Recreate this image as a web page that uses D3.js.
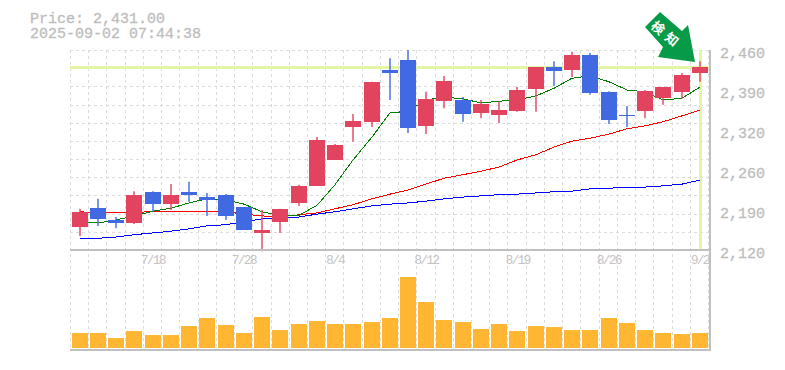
<!DOCTYPE html>
<html>
<head>
<meta charset="utf-8">
<script src="https://cdn.jsdelivr.net/npm/d3@7"></script>
<style>
  html, body { margin: 0; padding: 0; background: #fff; }
  svg { display: block; }
  text { font-family: "Liberation Mono", monospace; fill: #bdbdbd; }
</style>
</head>
<body>
<svg id="chart" width="785" height="370"></svg>
<script>
// Data
var dates = ["7/14","7/15","7/16","7/17","7/18","7/22","7/23","7/24","7/25","7/28","7/29","7/30","7/31","8/1","8/4","8/5","8/6","8/7","8/8","8/12","8/13","8/14","8/15","8/18","8/19","8/20","8/21","8/22","8/25","8/26","8/27","8/28","8/29","9/1","9/2"];
var opens  = [2159,2191,2171,2166,2219,2198,2218,2210,2214,2193,2149,2168,2200,2229,2273,2329,2338,2426,2443,2331,2373,2375,2353,2350,2356,2394,2431,2426,2452,2389,2350,2356,2378,2389,2421];
var highs  = [2190,2207,2176,2220,2220,2232,2236,2217,2215,2193,2188,2190,2231,2312,2300,2351,2406,2446,2460,2389,2416,2380,2375,2373,2397,2431,2441,2457,2455,2390,2365,2392,2397,2421,2441];
var lows   = [2144,2161,2157,2164,2185,2188,2202,2178,2171,2154,2118,2149,2195,2229,2273,2304,2329,2375,2319,2317,2361,2338,2344,2336,2355,2355,2399,2414,2384,2334,2329,2344,2367,2377,2406];
var closes = [2185,2173,2166,2214,2198,2214,2214,2205,2178,2154,2154,2190,2229,2307,2299,2339,2406,2421,2327,2377,2407,2351,2368,2358,2392,2431,2424,2452,2387,2341,2348,2390,2397,2418,2431];
var ma5  = [2166,2166,2171,2178,2186,2191,2200,2207,2205,2198,2185,2179,2179,2196,2231,2273,2312,2353,2356,2375,2380,2377,2370,2373,2375,2382,2395,2412,2416,2406,2392,2389,2375,2378,2397];
var ma25 = [2185,2183,2183,2183,2186,2186,2186,2185,2185,2181,2178,2176,2180,2183,2190,2197,2207,2215,2222,2232,2242,2248,2254,2261,2273,2282,2295,2305,2310,2317,2326,2331,2338,2348,2358];
var ma75 = [2140,2140,2142,2146,2149,2152,2156,2161,2163,2168,2173,2174,2176,2181,2185,2190,2195,2198,2200,2203,2207,2210,2212,2214,2215,2217,2219,2220,2224,2225,2227,2227,2229,2232,2239];
var volumes = [15,15,10,17,13,13,22,30,23,15,31,18,24,27,24,24,26,30,71,46,28,26,19,24,17,22,21,18,18,30,25,18,15,14,15];
var priceTicks = [2460,2392,2324,2256,2188,2120];
var priceLabels = ["2,460","2,390","2,320","2,260","2,190","2,120"];
var dateLabels = ["7/18","7/28","8/4","8/12","8/19","8/26","9/2"];
var lastPrice = 2431;
var priceText = "Price: 2,431.00";
var timeText = "2025-09-02 07:44:38";
var arrowText = "検知";

var svg = d3.select("#chart");

var margin = {left: 70, right: 710, top: 50, bottom: 250, volTop: 260, volBottom: 348, bottomLine: 350};

// Scales
var x = d3.scaleBand().domain(dates).range([70.5, 709]).paddingInner(0.115).paddingOuter(0.06);
var y = d3.scaleLinear().domain([2120, 2460]).range([margin.bottom, margin.top]);
var yVol = d3.scaleLinear().domain([0, 88]).range([margin.volBottom, margin.volTop]);
var center = function(d) { return Math.round(x(d) + x.bandwidth() / 2); };

// Grid
var vGrid = d3.range(0, dates.length + 1).map(function(i) { return Math.round(70 + i * (638 / dates.length)) + 0.5; });
var hGrid = d3.range(0, 12).map(function(i) { return Math.round(50 + i * (200 / 11)) + 0.5; });
var grid = svg.append("g").attr("stroke", "#dcdcdc").attr("stroke-dasharray", "3,3").attr("shape-rendering", "crispEdges");
grid.selectAll(".v").data(vGrid).enter().append("line")
    .attr("x1", function(d) { return d; }).attr("x2", function(d) { return d; })
    .attr("y1", margin.top).attr("y2", margin.bottomLine);
grid.selectAll(".h").data(hGrid).enter().append("line")
    .attr("x1", margin.left).attr("x2", margin.right)
    .attr("y1", function(d) { return d; }).attr("y2", function(d) { return d; });

// Current price and current time markers
svg.append("line").attr("x1", margin.left).attr("x2", margin.right)
    .attr("y1", Math.round(y(lastPrice))).attr("y2", Math.round(y(lastPrice)))
    .attr("stroke", "#e3f6a6").attr("stroke-width", 3).attr("shape-rendering", "crispEdges");
svg.append("line").attr("x1", center("9/2")).attr("x2", center("9/2"))
    .attr("y1", margin.top).attr("y2", margin.bottom)
    .attr("stroke", "#e3f6a6").attr("stroke-width", 3).attr("shape-rendering", "crispEdges");

// Moving averages
var line = d3.line().x(function(d, i) { return center(dates[i]); }).y(function(d) { return y(d); });
[[ma75, "#0000ff"], [ma25, "#ff0000"], [ma5, "#008000"]].forEach(function(s) {
    svg.append("path").attr("d", line(s[0])).attr("fill", "none")
        .attr("stroke", s[1]).attr("stroke-width", 1).attr("shape-rendering", "crispEdges");
});

// Candles
var isUp = function(i) { return closes[i] >= opens[i]; };
var candleColor = function(i) { return isUp(i) ? "#e2435f" : "#4169e1"; };
var candles = svg.append("g");
candles.selectAll(".wick").data(dates).enter().append("line")
    .attr("x1", function(d) { return center(d); })
    .attr("x2", function(d) { return center(d); })
    .attr("y1", function(d, i) { return y(highs[i]); })
    .attr("y2", function(d, i) { return y(lows[i]); })
    .attr("stroke", function(d, i) { return candleColor(i); })
    .attr("stroke-width", 1.4);
candles.selectAll(".body").data(dates).enter().append("rect")
    .attr("shape-rendering", "crispEdges")
    .attr("x", function(d) { return center(d) - 8; })
    .attr("width", 16)
    .attr("y", function(d, i) { return y(Math.max(opens[i], closes[i])); })
    .attr("height", function(d, i) { return Math.max(1, Math.abs(y(opens[i]) - y(closes[i]))); })
    .attr("fill", function(d, i) { return candleColor(i); });

// Volume
svg.append("g").attr("fill", "#ffb733").attr("shape-rendering", "crispEdges")
    .selectAll("rect").data(volumes).enter().append("rect")
    .attr("x", function(d, i) { return center(dates[i]) - 8; })
    .attr("width", 16)
    .attr("y", function(d) { return yVol(d); })
    .attr("height", function(d) { return yVol(0) - yVol(d); });

// Frame lines
var frame = svg.append("g").attr("stroke", "#c0c0c0").attr("stroke-width", 2).attr("shape-rendering", "crispEdges");
frame.append("line").attr("x1", margin.left).attr("x2", margin.right + 1).attr("y1", margin.bottom).attr("y2", margin.bottom);
frame.append("line").attr("x1", margin.left).attr("x2", margin.right + 1).attr("y1", margin.bottomLine).attr("y2", margin.bottomLine);
frame.append("line").attr("x1", margin.right).attr("x2", margin.right).attr("y1", margin.top).attr("y2", margin.bottomLine + 1);

// Price axis
var yAxis = d3.axisRight(y).tickValues(priceTicks).tickSize(0).tickPadding(0)
    .tickFormat(function(d, i) { return priceLabels[i]; });
var yAxisG = svg.append("g").attr("transform", "translate(720,3)").call(yAxis);
yAxisG.select(".domain").remove();
yAxisG.selectAll("text").style("font-size", "15px").style("font-family", '"Liberation Mono", monospace')
    .style("stroke", "#bdbdbd").style("stroke-width", 0.3);

// Date axis
var xAxis = d3.axisBottom(x).tickValues(dateLabels).tickSize(0).tickPadding(0);
var xAxisG = svg.append("g").attr("transform", "translate(0,255)").call(xAxis);
xAxisG.select(".domain").remove();
xAxisG.selectAll("text").style("font-size", "13px").style("letter-spacing", "-1.8px")
    .style("font-family", '"Liberation Mono", monospace').style("fill", "#c4c4c4");

// Header
svg.append("text").attr("x", 30).attr("y", 23).style("font-size", "15px")
    .style("stroke", "#bdbdbd").style("stroke-width", 0.3).text(priceText);
svg.append("text").attr("x", 30).attr("y", 38).style("font-size", "15px")
    .style("stroke", "#bdbdbd").style("stroke-width", 0.3).text(timeText);

// Signal arrow
var arrowPts = [[645,27],[660,12],[682,31],[688,25],[695,62],[658,57],[663,47]];
svg.append("polygon").attr("points", arrowPts.join(" ")).attr("fill", "#079a48");
svg.append("text").attr("transform", "translate(666,36) rotate(40)")
    .attr("text-anchor", "middle").attr("dominant-baseline", "middle")
    .style("font-family", '"Noto Sans CJK JP"').style("font-size", "13px").style("font-weight", "bold")
    .style("letter-spacing", "5px").style("fill", "#fff")
    .text(arrowText);
</script>
</body>
</html>
